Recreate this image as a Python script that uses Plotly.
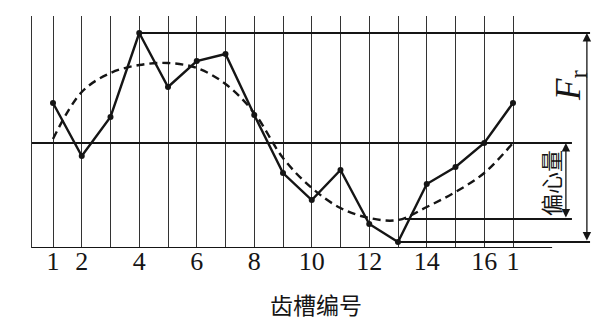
import plotly.graph_objects as go

# ---- data ----
teeth = list(range(1, 18))
tick_positions = [1, 2, 4, 6, 8, 10, 12, 14, 16, 17]
tick_labels = ["1", "2", "4", "6", "8", "10", "12", "14", "16", "1"]
runout = [14.5, 9.2, 13.1, 21.5, 16.1, 18.7, 19.4, 13.3, 7.5, 4.8, 7.8, 2.4, 0.6, 6.4, 8.1, 10.5, 14.5]
eccentric = [10.9, 15.6, 17.5, 18.3, 18.5, 18.0, 16.4, 13.5, 9.0, 6.0, 4.0, 3.0, 2.8, 4.1, 5.6, 7.5, 10.5]
center_level = 10.5
ecc_min = 2.9
x_title = "齿槽编号"
ecc_label = "偏心量"
fr_label = "<i>F</i><sub>r</sub>"

ink = "#151515"
grid = "#333333"

r_max = max(runout)
r_min = min(runout)
x_max = teeth[runout.index(r_max)]
x_min = teeth[runout.index(r_min)]

fig = go.Figure()

fig.add_trace(go.Scatter(
    x=teeth, y=eccentric, mode="lines", line_shape="spline",
    line=dict(color=ink, width=2.4, dash="8px,5px"), hoverinfo="skip"))
fig.add_trace(go.Scatter(
    x=teeth, y=runout, mode="lines+markers",
    line=dict(color=ink, width=2.4), marker=dict(color=ink, size=6)))

left = 0.27
shapes = [
    dict(type="line", x0=left, x1=18.36, y0=0, y1=0, line=dict(color=ink, width=2.2)),
    dict(type="line", x0=x_max, x1=19.68, y0=r_max, y1=r_max, line=dict(color=ink, width=1.8)),
    dict(type="line", x0=x_min, x1=19.68, y0=r_min, y1=r_min, line=dict(color=ink, width=1.8)),
    dict(type="line", x0=left, x1=19.05, y0=center_level, y1=center_level, line=dict(color=ink, width=1.8)),
    dict(type="line", x0=13.24, x1=19.05, y0=ecc_min, y1=ecc_min, line=dict(color=ink, width=1.8)),
]

annotations = [
    dict(x=19.57, y=r_max, ax=19.57, ay=r_min, xref="x", yref="y", axref="x", ayref="y",
         text="", showarrow=True, arrowhead=2, arrowside="end+start", arrowsize=1.3,
         arrowwidth=1.3, arrowcolor=ink),
    dict(x=18.84, y=center_level, ax=18.84, ay=ecc_min, xref="x", yref="y", axref="x", ayref="y",
         text="", showarrow=True, arrowhead=2, arrowside="end+start", arrowsize=1.3,
         arrowwidth=1.3, arrowcolor=ink),
    dict(x=18.98, y=16.3, xref="x", yref="y", text=fr_label, showarrow=False, textangle=-90,
         font=dict(family="Liberation Serif", size=35, color=ink)),
    dict(x=18.29, y=6.5, xref="x", yref="y", text=ecc_label, showarrow=False, textangle=-90,
         font=dict(family="Noto Sans CJK SC", size=22, color=ink)),
    dict(x=0.5, y=-0.241, xref="paper", yref="paper", text=x_title, showarrow=False,
         yanchor="middle", font=dict(family="Noto Sans CJK SC", size=23, color=ink)),
]

fig.update_layout(
    width=608, height=325,
    margin=dict(l=32, r=8, t=16, b=77),
    paper_bgcolor="white", plot_bgcolor="white",
    showlegend=False,
    shapes=shapes, annotations=annotations,
    xaxis=dict(range=[0.2696, 20.026], tickmode="array",
               tickvals=tick_positions, ticktext=tick_labels,
               showgrid=True, gridcolor=grid, gridwidth=1.4, zeroline=False,
               showline=False, ticks="", ticklabelstandoff=-5,
               tickfont=dict(family="Liberation Serif", size=26, color=ink),
               minor=dict(tickmode="array", tickvals=teeth, showgrid=True,
                          gridcolor=grid, gridwidth=1.4, ticks="")),
    yaxis=dict(range=[0, 23.2], showgrid=False, zeroline=False, showticklabels=False,
               showline=True, linecolor=grid, linewidth=1.4, ticks=""),
)

fig.write_html("out.html")
